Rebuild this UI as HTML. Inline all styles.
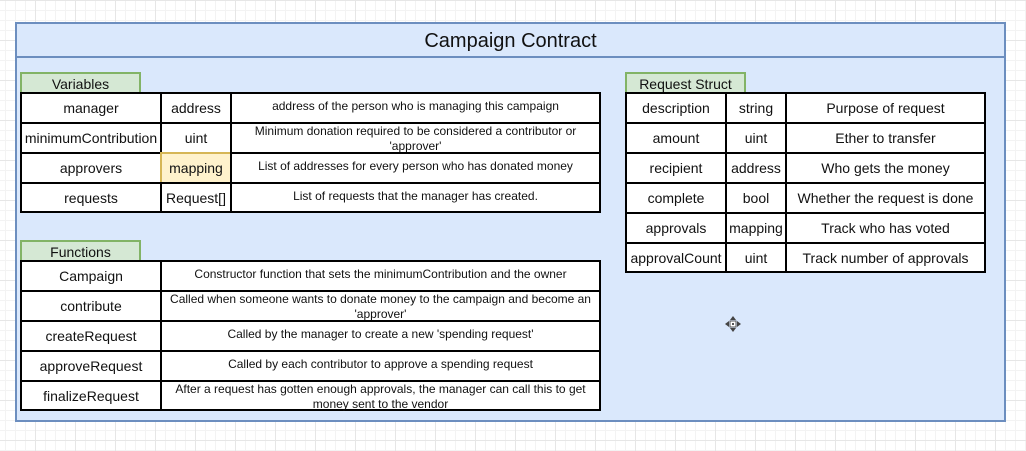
<!DOCTYPE html>
<html><head><meta charset="utf-8"><style>
html,body{margin:0;padding:0;}
body{width:1026px;height:451px;position:relative;overflow:hidden;background:#fff;
background-image:linear-gradient(#e6e6e6 1px,transparent 1px),linear-gradient(90deg,#e6e6e6 1px,transparent 1px),linear-gradient(#f3f3f3 1px,transparent 1px),linear-gradient(90deg,#f3f3f3 1px,transparent 1px);
background-size:40px 40px,40px 40px,10px 10px,10px 10px;background-position:35px 0,35px 0,5px 0,5px 0;
font-family:"Liberation Sans",sans-serif;color:#111;}
.box{position:absolute;box-sizing:border-box;}
.c{position:absolute;box-sizing:border-box;border:2px solid #000;background:#fff;display:flex;align-items:center;justify-content:center;text-align:center;font-size:14px;line-height:16px;}
.d{font-size:12px;line-height:15px;align-items:flex-start;padding-top:5px;}
.d2{padding-top:0;}
.tab{position:absolute;box-sizing:border-box;border:2px solid #82b366;border-bottom:none;background:#d5e8d4;font-size:14px;text-align:center;line-height:20px;}
</style></head><body>
<div class="box" style="left:15px;top:22px;width:991px;height:400px;border:2px solid #6c8ebf;background:#dae8fc;"></div>
<div class="box" style="left:15px;top:56px;width:991px;height:2px;background:#6c8ebf;"></div>
<div class="box" style="left:15px;top:27px;width:991px;text-align:center;font-size:20px;line-height:28px;">Campaign Contract</div>

<div class="tab" style="left:20px;top:72px;width:121px;height:21px;">Variables</div>
<div class="c" style="left:20px;top:92px;width:142px;height:32px;">manager</div>
<div class="c" style="left:160px;top:92px;width:72px;height:32px;">address</div>
<div class="c d" style="left:230px;top:92px;width:371px;height:32px;">address of the person who is managing this campaign</div>
<div class="c" style="left:20px;top:122px;width:142px;height:32px;">minimumContribution</div>
<div class="c" style="left:160px;top:122px;width:72px;height:32px;">uint</div>
<div class="c d d2" style="left:230px;top:122px;width:371px;height:32px;"><span style="display:block;width:330px">Minimum donation required to be considered a contributor or 'approver'</span></div>
<div class="c" style="left:20px;top:152px;width:142px;height:32px;">approvers</div>
<div class="c" style="left:160px;top:152px;width:72px;height:32px;background:#fff2cc;"></div>
<div class="box" style="left:160px;top:152px;width:72px;height:32px;border:2px solid #d6b656;border-right-color:#000;border-bottom-color:#000;display:flex;align-items:center;justify-content:center;font-size:14px;">mapping</div>
<div class="c d" style="left:230px;top:152px;width:371px;height:32px;">List of addresses for every person who has donated money</div>
<div class="c" style="left:20px;top:182px;width:142px;height:31px;">requests</div>
<div class="c" style="left:160px;top:182px;width:72px;height:31px;">Request[]</div>
<div class="c d" style="left:230px;top:182px;width:371px;height:31px;">List of requests that the manager has created.</div>

<div class="tab" style="left:20px;top:240px;width:121px;height:21px;">Functions</div>
<div class="c" style="left:20px;top:260px;width:142px;height:32px;">Campaign</div>
<div class="c d" style="left:160px;top:260px;width:441px;height:32px;">Constructor function that sets the minimumContribution and the owner</div>
<div class="c" style="left:20px;top:290px;width:142px;height:32px;">contribute</div>
<div class="c d d2" style="left:160px;top:290px;width:441px;height:32px;"><span style="display:block;width:430px">Called when someone wants to donate money to the campaign and become an 'approver'</span></div>
<div class="c" style="left:20px;top:320px;width:142px;height:32px;">createRequest</div>
<div class="c d" style="left:160px;top:320px;width:441px;height:32px;">Called by the manager to create a new 'spending request'</div>
<div class="c" style="left:20px;top:350px;width:142px;height:32px;">approveRequest</div>
<div class="c d" style="left:160px;top:350px;width:441px;height:32px;">Called by each contributor to approve a spending request</div>
<div class="c" style="left:20px;top:380px;width:142px;height:31px;">finalizeRequest</div>
<div class="c d d2" style="left:160px;top:380px;width:441px;height:31px;"><span style="display:block;width:430px">After a request has gotten enough approvals, the manager can call this to get money sent to the vendor</span></div>

<div class="tab" style="left:625px;top:72px;width:121px;height:21px;">Request Struct</div>
<div class="c" style="left:625px;top:92px;width:102px;height:32px;">description</div>
<div class="c" style="left:725px;top:92px;width:62px;height:32px;">string</div>
<div class="c" style="left:785px;top:92px;width:201px;height:32px;">Purpose of request</div>
<div class="c" style="left:625px;top:122px;width:102px;height:32px;">amount</div>
<div class="c" style="left:725px;top:122px;width:62px;height:32px;">uint</div>
<div class="c" style="left:785px;top:122px;width:201px;height:32px;">Ether to transfer</div>
<div class="c" style="left:625px;top:152px;width:102px;height:32px;">recipient</div>
<div class="c" style="left:725px;top:152px;width:62px;height:32px;">address</div>
<div class="c" style="left:785px;top:152px;width:201px;height:32px;">Who gets the money</div>
<div class="c" style="left:625px;top:182px;width:102px;height:32px;">complete</div>
<div class="c" style="left:725px;top:182px;width:62px;height:32px;">bool</div>
<div class="c" style="left:785px;top:182px;width:201px;height:32px;">Whether the request is done</div>
<div class="c" style="left:625px;top:212px;width:102px;height:32px;">approvals</div>
<div class="c" style="left:725px;top:212px;width:62px;height:32px;">mapping</div>
<div class="c" style="left:785px;top:212px;width:201px;height:32px;">Track who has voted</div>
<div class="c" style="left:625px;top:242px;width:102px;height:31px;">approvalCount</div>
<div class="c" style="left:725px;top:242px;width:62px;height:31px;">uint</div>
<div class="c" style="left:785px;top:242px;width:201px;height:31px;">Track number of approvals</div>

<svg class="box" style="left:724px;top:315px;" width="18" height="18" viewBox="0 0 18 18">
<polygon points="9,1 12,5 6,5" fill="#444"/><polygon points="9,17 12,13 6,13" fill="#444"/>
<polygon points="1,9 5,6 5,12" fill="#444"/><polygon points="17,9 13,6 13,12" fill="#444"/>
<rect x="6" y="6" width="6" height="6" fill="#fff" stroke="#555"/><rect x="8" y="8" width="2" height="2" fill="#555"/>
</svg>
</body></html>
